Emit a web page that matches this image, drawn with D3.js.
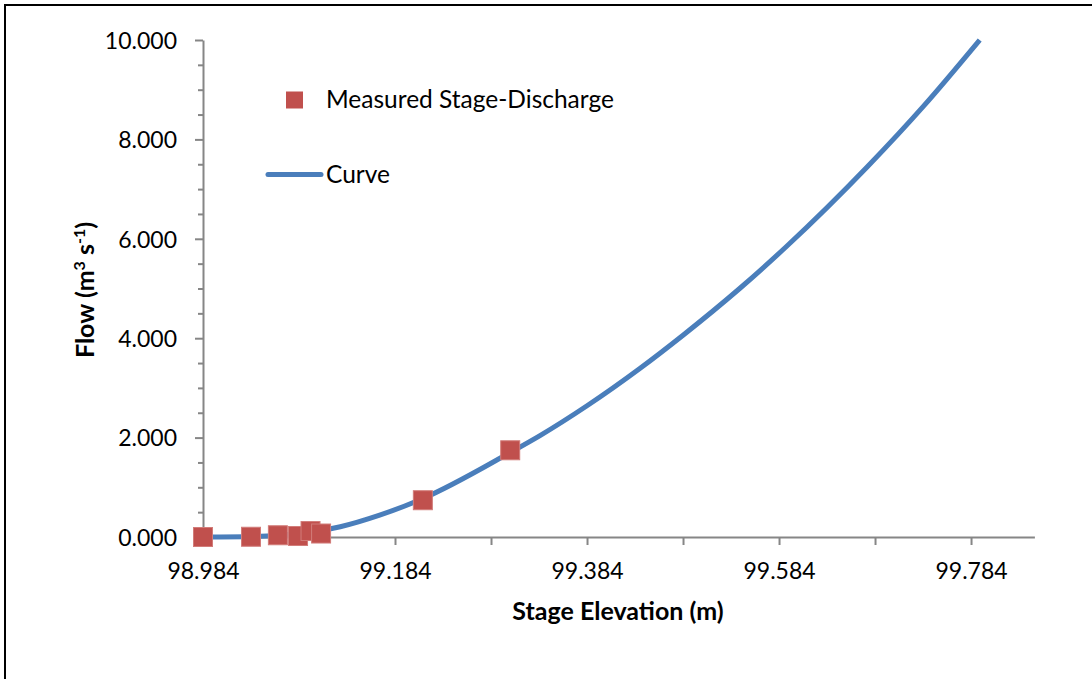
<!DOCTYPE html>
<html>
<head>
<meta charset="utf-8">
<script src="https://cdn.jsdelivr.net/npm/d3@7"></script>
<style>
  html, body { margin: 0; padding: 0; background: #ffffff; }
  svg { display: block; }
  text { font-family: Lato, "Open Sans", sans-serif; fill: #000; }
</style>
</head>
<body>
<svg id="chart" width="1092" height="679"></svg>
<script>
// Measured stage-discharge gaugings
const measuredStage = [98.984, 99.034, 99.062, 99.083, 99.096, 99.107, 99.213, 99.304];
const measuredFlow  = [0.000, 0.005, 0.035, 0.020, 0.120, 0.070, 0.740, 1.745];

// Rating curve
const curveStage = [98.984, 99.044, 99.075, 99.127, 99.168, 99.212, 99.304, 99.335, 99.384, 99.439, 99.484, 99.543, 99.592, 99.676, 99.735, 99.793];
const curveFlow  = [0.000, 0.014, 0.054, 0.207, 0.440, 0.765, 1.700, 2.040, 2.640, 3.390, 4.060, 5.000, 5.850, 7.450, 8.680, 10.000];

// Axis ticks
const xTicks = [98.984, 99.084, 99.184, 99.284, 99.384, 99.484, 99.584, 99.684, 99.784];
const xTickLabels = ["98.984", "", "99.184", "", "99.384", "", "99.584", "", "99.784"];
const yMajorTicks = [0, 2, 4, 6, 8, 10];
const yTickLabels = ["0.000", "2.000", "4.000", "6.000", "8.000", "10.000"];
const yMinorTicks = [0.5, 1, 1.5, 2.5, 3, 3.5, 4.5, 5, 5.5, 6.5, 7, 7.5, 8.5, 9, 9.5];

const seriesNames = ["Measured Stage-Discharge", "Curve"];

const svg = d3.select("#chart");
const axisColor = "#868686";
const pointColor = "#C0504D";
const lineColor = "#4A7EBB";

// Outer frame
svg.append("rect")
  .attr("x", 5).attr("y", 5)
  .attr("width", 1200).attr("height", 800)
  .attr("fill", "none").attr("stroke", "#000").attr("stroke-width", 2);

const x = d3.scaleLinear().domain([98.984, 99.85]).range([203, 1034.4]);
const y = d3.scaleLinear().domain([0, 10]).range([537, 40]);

// Y axis (major ticks with labels)
const yAxis = d3.axisLeft(y)
  .tickValues(yMajorTicks)
  .tickSize(8)
  .tickSizeOuter(0)
  .tickPadding(18)
  .tickFormat((d, i) => yTickLabels[i]);
const gy = svg.append("g").attr("transform", `translate(${x.range()[0]},0)`).call(yAxis);
gy.select(".domain").attr("stroke", axisColor).attr("stroke-width", 2);
gy.selectAll(".tick line").attr("stroke", axisColor).attr("stroke-width", 2);
gy.selectAll(".tick text").attr("font-size", 23).attr("font-family", "Lato, sans-serif").attr("dy", "0.36em");

// Y minor ticks
const yMinor = d3.axisLeft(y).tickValues(yMinorTicks).tickSize(5).tickSizeOuter(0).tickFormat("");
const gym = svg.append("g").attr("transform", `translate(${x.range()[0]},0)`).call(yMinor);
gym.select(".domain").remove();
gym.selectAll(".tick line").attr("stroke", axisColor).attr("stroke-width", 2);

// X axis
const xAxis = d3.axisBottom(x)
  .tickValues(xTicks)
  .tickSize(8)
  .tickSizeOuter(0)
  .tickPadding(18)
  .tickFormat((d, i) => xTickLabels[i]);
const gx = svg.append("g").attr("transform", `translate(0,${y(0)})`).call(xAxis);
gx.select(".domain").attr("stroke", axisColor).attr("stroke-width", 2);
gx.selectAll(".tick line").attr("stroke", axisColor).attr("stroke-width", 2);
gx.selectAll(".tick text").attr("font-size", 23).attr("font-family", "Lato, sans-serif").attr("dy", "0.71em");

// Axis titles
svg.append("text")
  .attr("x", 618).attr("y", 620)
  .attr("text-anchor", "middle")
  .attr("font-size", 25).attr("font-weight", "bold")
  .text("Stage Elevation (m)");

const yTitle = svg.append("text")
  .attr("transform", "translate(94,290) rotate(-90)")
  .attr("text-anchor", "middle")
  .attr("font-size", 25).attr("font-weight", "bold");
yTitle.append("tspan").text("Flow (m");
yTitle.append("tspan").attr("font-size", 16).attr("dy", -9).text("3");
yTitle.append("tspan").attr("dy", 9).text(" s");
yTitle.append("tspan").attr("font-size", 16).attr("dy", -9).text("-1");
yTitle.append("tspan").attr("dy", 9).text(")");

// Rating curve
const curveData = curveStage.map((s, i) => ({ s, q: curveFlow[i] }));
const line = d3.line()
  .x(d => x(d.s))
  .y(d => y(d.q))
  .curve(d3.curveMonotoneX);
svg.append("path")
  .datum(curveData)
  .attr("fill", "none")
  .attr("stroke", lineColor)
  .attr("stroke-width", 5)
  .attr("d", line);

// Measured points
const pts = measuredStage.map((s, i) => ({ s, q: measuredFlow[i] }));
const size = 19;
svg.append("g").selectAll("rect")
  .data(pts)
  .join("rect")
  .attr("x", d => x(d.s) - size / 2)
  .attr("y", d => y(d.q) - size / 2)
  .attr("width", size).attr("height", size)
  .attr("fill", pointColor)
  .attr("stroke", "#D27C79").attr("stroke-width", 1);

// Legend
const lg = svg.append("g");
lg.append("rect")
  .attr("x", 286).attr("y", 91.5)
  .attr("width", 17).attr("height", 17)
  .attr("fill", pointColor);
lg.append("text")
  .attr("x", 326).attr("y", 107.5)
  .attr("font-size", 24.5)
  .text(seriesNames[0]);
lg.append("line")
  .attr("x1", 268).attr("x2", 321)
  .attr("y1", 174.5).attr("y2", 174.5)
  .attr("stroke", lineColor).attr("stroke-width", 5)
  .attr("stroke-linecap", "round");
lg.append("text")
  .attr("x", 326).attr("y", 183)
  .attr("font-size", 24.5)
  .text(seriesNames[1]);
</script>
</body>
</html>
